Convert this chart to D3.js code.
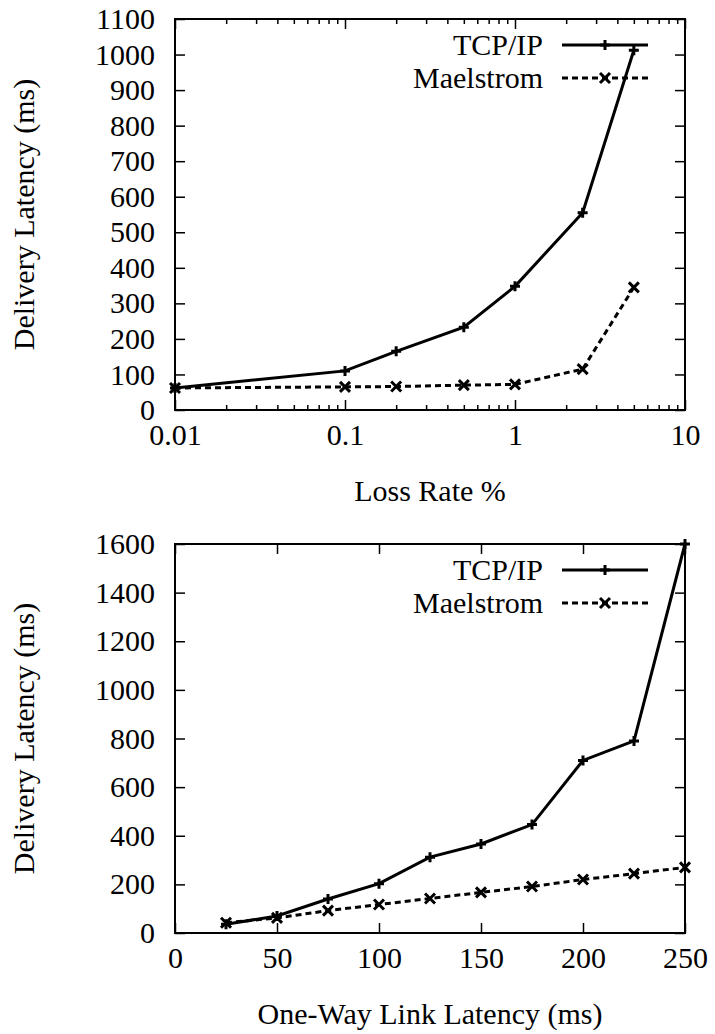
<!DOCTYPE html>
<html>
<head>
<meta charset="utf-8">
<script src="https://cdn.jsdelivr.net/npm/d3@7"></script>
<style>
  body { margin: 0; background: #fff; }
  text { font-family: "Liberation Serif", "Times New Roman", Times, serif !important; }
</style>
</head>
<body>
<script>
// top chart: loss rate
var lossRate = [0.01, 0.1, 0.2, 0.5, 1, 2.5, 5];
var lossTcp = [62, 110, 165, 233, 348, 555, 1012];
var lossMael = [62, 65, 66, 70, 72, 115, 345];
var lossTicksX = [0.01, 0.1, 1, 10];

// bottom chart: link latency
var linkLat = [25, 50, 75, 100, 125, 150, 175, 200, 225, 250];
var linkTcp = [36, 70, 140, 203, 312, 366, 446, 710, 790, 1600];
var linkMael = [42, 62, 92, 117, 142, 167, 191, 220, 244, 270];

var seriesNames = ["TCP/IP", "Maelstrom"];

var W = 715, H = 1034;
var fontSize = "30px";
var fontFam = "Liberation Serif";

var svg = d3.select("body").append("svg")
  .attr("width", W).attr("height", H)
  .style("font-family", fontFam);

function drawPanel(opt) {
  var g = svg.append("g");
  var x = opt.x, y = opt.y;
  var x0 = x.range()[0], x1 = x.range()[1];
  var y0 = y.range()[0], y1 = y.range()[1];

  // minor ticks (log axis only)
  if (opt.minor) {
    g.append("g").attr("transform", "translate(0," + y0 + ")")
      .call(d3.axisBottom(x).tickValues(opt.minor).tickSize(-5).tickFormat(""));
    g.append("g").attr("transform", "translate(0," + y1 + ")")
      .call(d3.axisTop(x).tickValues(opt.minor).tickSize(-5).tickFormat(""));
  }

  // bottom / left with labels
  g.append("g").attr("class", "xa").attr("transform", "translate(0," + y0 + ")")
    .call(d3.axisBottom(x).tickValues(opt.xTicks).tickSize(-10).tickPadding(14)
      .tickFormat(opt.xFmt));
  g.append("g").attr("class", "ya").attr("transform", "translate(" + x0 + ",0)")
    .call(d3.axisLeft(y).tickValues(opt.yTicks).tickSize(-10).tickPadding(20)
      .tickFormat(d3.format("d")));
  // mirrored
  g.append("g").attr("transform", "translate(0," + y1 + ")")
    .call(d3.axisTop(x).tickValues(opt.xTicks).tickSize(-10).tickFormat(""));
  g.append("g").attr("transform", "translate(" + x1 + ",0)")
    .call(d3.axisRight(y).tickValues(opt.yTicks).tickSize(-10).tickFormat(""));

  g.selectAll(".domain").remove();
  g.selectAll("g").attr("font-family", null).attr("font-size", null);
  g.selectAll(".tick line").attr("stroke", "#000").attr("stroke-width", 1.5);
  g.selectAll(".tick text")
    .style("font-family", fontFam).style("font-size", fontSize).style("fill", "#000");
  g.selectAll(".xa .tick text").attr("dy", "0.71em");

  g.append("rect")
    .attr("x", x0).attr("y", y1)
    .attr("width", x1 - x0).attr("height", y0 - y1)
    .attr("fill", "none").attr("stroke", "#000").attr("stroke-width", 2);

  // axis titles
  g.append("text")
    .attr("x", (x0 + x1) / 2).attr("y", y0 + 91)
    .attr("text-anchor", "middle")
    .style("font-family", fontFam).style("font-size", fontSize)
    .text(opt.xTitle);
  g.append("text")
    .attr("transform", "translate(34," + ((y0 + y1) / 2) + ") rotate(-90)")
    .attr("text-anchor", "middle")
    .style("font-family", fontFam).style("font-size", fontSize)
    .text("Delivery Latency (ms)");

  var line = d3.line().x(function(d) { return x(d[0]); }).y(function(d) { return y(d[1]); });

  var series = [
    { vals: opt.tcp, dash: null, mark: "plus" },
    { vals: opt.mael, dash: "6,4", mark: "cross" }
  ];

  series.forEach(function(s, i) {
    var pts = opt.xs.map(function(v, j) { return [v, s.vals[j]]; });
    g.append("path").datum(pts)
      .attr("d", line)
      .attr("fill", "none").attr("stroke", "#000").attr("stroke-width", 3)
      .attr("stroke-dasharray", s.dash);
    pts.forEach(function(p) {
      drawMark(g, x(p[0]), y(p[1]), s.mark);
    });

    // legend
    var ly = y1 + 26 + i * 33;
    g.append("text")
      .attr("x", 543).attr("y", ly).attr("dy", "0.33em")
      .attr("text-anchor", "end")
      .style("font-family", fontFam).style("font-size", fontSize)
      .text(seriesNames[i]);
    g.append("line")
      .attr("x1", 562).attr("x2", 648).attr("y1", ly).attr("y2", ly)
      .attr("stroke", "#000").attr("stroke-width", 3)
      .attr("stroke-dasharray", s.dash);
    drawMark(g, 605, ly, s.mark);
  });
}

function drawMark(g, cx, cy, type) {
  var r = 5;
  var p = type === "plus"
    ? "M" + (cx - r) + "," + cy + "H" + (cx + r) + "M" + cx + "," + (cy - r) + "V" + (cy + r)
    : "M" + (cx - r) + "," + (cy - r) + "L" + (cx + r) + "," + (cy + r) +
      "M" + (cx - r) + "," + (cy + r) + "L" + (cx + r) + "," + (cy - r);
  g.append("path").attr("d", p)
    .attr("stroke", "#000").attr("stroke-width", 3).attr("fill", "none");
}

// minor log ticks 2..9 in each decade
var minor = [];
[0.01, 0.1, 1].forEach(function(dec) {
  for (var k = 2; k <= 9; k++) minor.push(dec * k);
});

drawPanel({
  x: d3.scaleLog().domain([0.01, 10]).range([175, 685]),
  y: d3.scaleLinear().domain([0, 1100]).range([410, 19]),
  xs: lossRate, tcp: lossTcp, mael: lossMael,
  xTicks: lossTicksX,
  xFmt: function(d) { return String(d); },
  yTicks: d3.range(0, 1101, 100),
  minor: minor,
  xTitle: "Loss Rate %"
});

drawPanel({
  x: d3.scaleLinear().domain([0, 250]).range([175, 685]),
  y: d3.scaleLinear().domain([0, 1600]).range([933, 544]),
  xs: linkLat, tcp: linkTcp, mael: linkMael,
  xTicks: d3.range(0, 251, 50),
  xFmt: d3.format("d"),
  yTicks: d3.range(0, 1601, 200),
  minor: null,
  xTitle: "One-Way Link Latency (ms)"
});
</script>
</body>
</html>
